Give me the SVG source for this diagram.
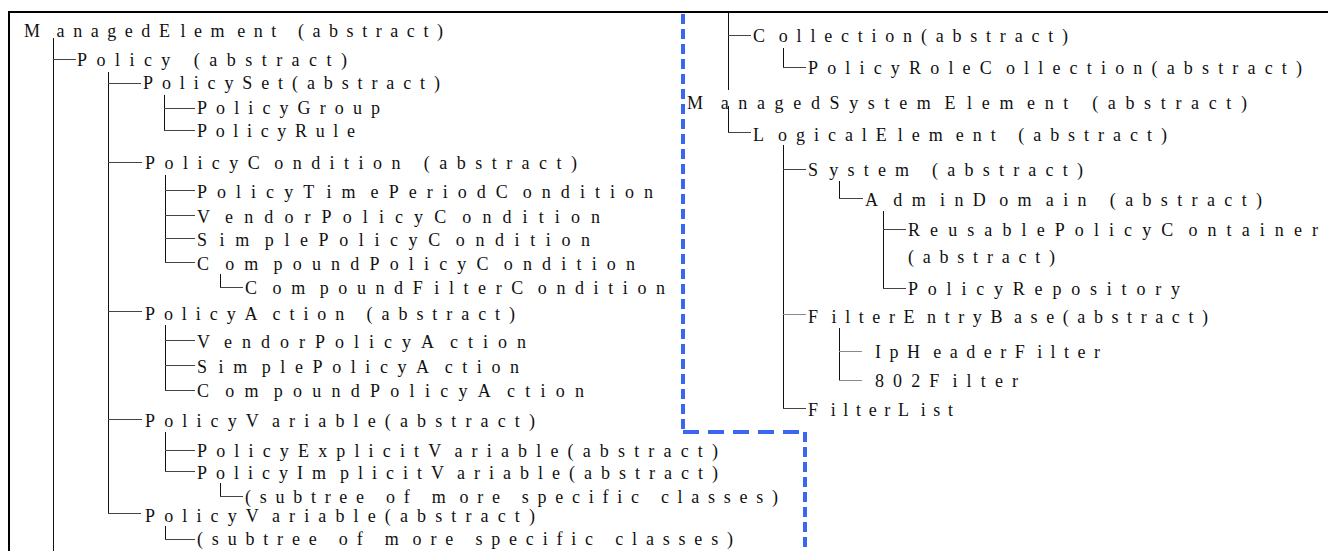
<svg xmlns="http://www.w3.org/2000/svg" width="1328" height="551" viewBox="0 0 1328 551">
<style>
.t{font-family:"Liberation Serif","Times New Roman","DejaVu Serif",serif;font-size:18px;fill:#111;}
.v{stroke:#111;stroke-width:1;fill:none;}
.h{stroke:#444;stroke-width:1;fill:none;}
.hg{stroke:#8a8a8a;stroke-width:1;fill:none;}
.frame{stroke:#000;stroke-width:2;fill:none;}
.blue{stroke:#3b66f2;stroke-width:4;fill:none;}
</style>
<rect width="1328" height="551" fill="#fff"/>
<g id="frame">
<path class="frame" d="M8,12 H1328 M9,11 V551"/>
</g>
<g id="boundary">
<path class="blue" stroke-dasharray="10 5" d="M683,14 V432"/>
<path class="blue" stroke-dasharray="16 9" d="M683,432 H805"/>
<path class="blue" stroke-dasharray="10 5" d="M805,432 V551"/>
</g>
<g id="connectors">
<path class="v" d="M53.5,38 V551 M108.5,72 V513 M164.5,95 V130 M165.5,175 V262 M220.5,274 V287 M165.5,325 V390 M165.5,432 V471 M220.5,483 V496 M165.5,526 V539"/>
<path class="h" d="M53,59.5 H76 M108,83.5 H141 M108,162.5 H142 M108,311.5 H142 M108,419.5 H142 M108,513.5 H141 M164,108.5 H195 M164,130.5 H195 M165,190.5 H195 M165,215.5 H195 M165,238.5 H195 M165,262.5 H195 M220,287.5 H243 M165,340.5 H195 M165,365.5 H195 M165,390.5 H195 M165,450.5 H195 M165,471.5 H195 M220,496.5 H243 M165,539.5 H195"/>
<path class="v" d="M728.5,13 V90 M783.5,48 V67 M728.5,106 V132 M783.5,145 V408 M839.5,181 V198 M883.5,211 V288 M839.5,328 V380"/>
<path class="h" d="M728,35.5 H751 M783,67.5 H806 M728,132.5 H751 M783,169.5 H806 M783,408.5 H806 M839,198.5 H863 M883,229.5 H906 M883,288.5 H906"/>
<path class="hg" d="M783,314.5 H806 M839,351.5 H862 M839,380.5 H862"/>
</g>
<g id="n-managedelement"><text class="t" x="24" y="37" textLength="419" lengthAdjust="spacing">M<tspan dx="8">anagedE</tspan><tspan dx="2">lem</tspan><tspan dx="4">ent (abstract)</tspan></text></g>
<g id="n-policy"><text class="t" x="77" y="66" textLength="270" lengthAdjust="spacing">Policy (abstract)</text></g>
<g id="n-policyset"><text class="t" x="143" y="89" textLength="297" lengthAdjust="spacing">PolicySet(abstract)</text></g>
<g id="n-policygroup"><text class="t" x="197" y="114" textLength="183" lengthAdjust="spacing">PolicyGroup</text></g>
<g id="n-policyrule"><text class="t" x="197" y="137" textLength="158" lengthAdjust="spacing">PolicyRule</text></g>
<g id="n-policycondition"><text class="t" x="145" y="169" textLength="432" lengthAdjust="spacing">PolicyC<tspan dx="5">ondition (abstract)</tspan></text></g>
<g id="n-policytimeperiodcondition"><text class="t" x="197" y="198" textLength="456" lengthAdjust="spacing">PolicyT<tspan dx="3">im</tspan><tspan dx="5">ePeriodC</tspan><tspan dx="5">ondition</tspan></text></g>
<g id="n-vendorpolicycondition"><text class="t" x="197" y="223" textLength="403" lengthAdjust="spacing">V<tspan dx="6">endorPolicyC</tspan><tspan dx="5">ondition</tspan></text></g>
<g id="n-simplepolicycondition"><text class="t" x="197" y="246" textLength="393" lengthAdjust="spacing">S<tspan dx="2">im</tspan><tspan dx="5">plePolicyC</tspan><tspan dx="5">ondition</tspan></text></g>
<g id="n-compoundpolicycondition"><text class="t" x="197" y="270" textLength="438" lengthAdjust="spacing">C<tspan dx="6">om</tspan><tspan dx="5">poundPolicyC</tspan><tspan dx="5">ondition</tspan></text></g>
<g id="n-compoundfiltercondition"><text class="t" x="245" y="294" textLength="420" lengthAdjust="spacing">C<tspan dx="6">om</tspan><tspan dx="5">poundF</tspan><tspan dx="2">ilterC</tspan><tspan dx="5">ondition</tspan></text></g>
<g id="n-policyaction"><text class="t" x="145" y="320" textLength="370" lengthAdjust="spacing">PolicyA<tspan dx="6">ction (abstract)</tspan></text></g>
<g id="n-vendorpolicyaction"><text class="t" x="197" y="348" textLength="329" lengthAdjust="spacing">V<tspan dx="6">endorPolicyA</tspan><tspan dx="6">ction</tspan></text></g>
<g id="n-simplepolicyaction"><text class="t" x="197" y="373" textLength="322" lengthAdjust="spacing">S<tspan dx="2">im</tspan><tspan dx="5">plePolicyA</tspan><tspan dx="6">ction</tspan></text></g>
<g id="n-compoundpolicyaction"><text class="t" x="197" y="397" textLength="387" lengthAdjust="spacing">C<tspan dx="6">om</tspan><tspan dx="5">poundPolicyA</tspan><tspan dx="6">ction</tspan></text></g>
<g id="n-policyvariable"><text class="t" x="145" y="427" textLength="390" lengthAdjust="spacing">PolicyV<tspan dx="6">ariable(abstract)</tspan></text></g>
<g id="n-policyexplicitvariable"><text class="t" x="197" y="457" textLength="521" lengthAdjust="spacing">PolicyExplicitV<tspan dx="6">ariable(abstract)</tspan></text></g>
<g id="n-policyimplicitvariable"><text class="t" x="197" y="479" textLength="521" lengthAdjust="spacing">PolicyIm<tspan dx="5">plicitV</tspan><tspan dx="6">ariable(abstract)</tspan></text></g>
<g id="n-subtree1"><text class="t" x="245" y="503" textLength="533" lengthAdjust="spacing">(subtree of m<tspan dx="5">ore specific classes)</tspan></text></g>
<g id="n-policyvariable2"><text class="t" x="145" y="522" textLength="390" lengthAdjust="spacing">PolicyV<tspan dx="6">ariable(abstract)</tspan></text></g>
<g id="n-subtree2"><text class="t" x="197" y="545" textLength="536" lengthAdjust="spacing">(subtree of m<tspan dx="5">ore specific classes)</tspan></text></g>
<g id="n-collection"><text class="t" x="753" y="42" textLength="315" lengthAdjust="spacing">C<tspan dx="5">ollection(abstract)</tspan></text></g>
<g id="n-policyrolecollection"><text class="t" x="808" y="74" textLength="494" lengthAdjust="spacing">PolicyRoleC<tspan dx="5">ollection(abstract)</tspan></text></g>
<g id="n-managedsystemelement"><text class="t" x="687" y="109" textLength="560" lengthAdjust="spacing">M<tspan dx="8">anagedSystem</tspan><tspan dx="4">E</tspan><tspan dx="2">lem</tspan><tspan dx="4">ent (abstract)</tspan></text></g>
<g id="n-logicalelement"><text class="t" x="753" y="141" textLength="414" lengthAdjust="spacing">L<tspan dx="5">ogicalE</tspan><tspan dx="2">lem</tspan><tspan dx="4">ent (abstract)</tspan></text></g>
<g id="n-system"><text class="t" x="808" y="176" textLength="275" lengthAdjust="spacing">S<tspan dx="2">ystem (abstract)</tspan></text></g>
<g id="n-admindomain"><text class="t" x="865" y="206" textLength="397" lengthAdjust="spacing">A<tspan dx="6">dm</tspan><tspan dx="5">inD</tspan><tspan dx="4">om</tspan><tspan dx="5">ain (abstract)</tspan></text></g>
<g id="n-reusablepolicycontainer"><text class="t" x="908" y="236" textLength="410" lengthAdjust="spacing">ReusablePolicyC<tspan dx="5">ontainer</tspan></text><text class="t" x="908" y="263" textLength="147" lengthAdjust="spacing">(abstract)</text></g>
<g id="n-policyrepository"><text class="t" x="908" y="295" textLength="272" lengthAdjust="spacing">PolicyRepository</text></g>
<g id="n-filterentrybase"><text class="t" x="808" y="323" textLength="400" lengthAdjust="spacing">F<tspan dx="5">ilterE</tspan><tspan dx="4">ntryB</tspan><tspan dx="3">ase(abstract)</tspan></text></g>
<g id="n-ipheaderfilter"><text class="t" x="875" y="358" textLength="225" lengthAdjust="spacing">IpH<tspan dx="5">eaderF</tspan><tspan dx="4">ilter</tspan></text></g>
<g id="n-802filter"><text class="t" x="875" y="387" textLength="143" lengthAdjust="spacing">802F<tspan dx="4">ilter</tspan></text></g>
<g id="n-filterlist"><text class="t" x="808" y="416" textLength="145" lengthAdjust="spacing">F<tspan dx="5">ilterL</tspan><tspan dx="4">ist</tspan></text></g>
</svg>
